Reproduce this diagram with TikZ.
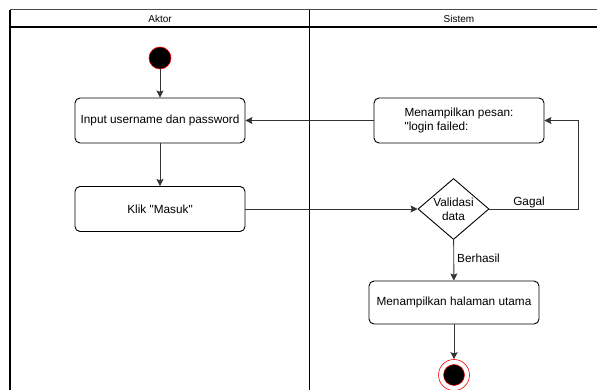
\documentclass[tikz,border=0pt]{standalone}
\usepackage{fontspec}
\setmainfont{Liberation Sans}[Ligatures=TeXOff]
\usepackage{tikz}
\usetikzlibrary{arrows.meta,shapes.geometric}

\tikzset{
	teks/.style={font=\fontsize{11.8}{14}\selectfont},
	aksi/.style={teks,draw,line width=0.9pt,rounded corners=5pt,minimum width=170pt,minimum height=45pt,inner sep=0pt},
	panah/.style={-{Stealth[length=7pt,width=7pt,inset=1.2pt]},line width=0.9pt,black!80},
	garis/.style={line width=1.1pt}
}

\begin{document}
\begin{tikzpicture}[x=1pt,y=-1pt]
	\useasboundingbox (0,0) rectangle (597,390);
	\draw[line width=1pt,black!70] (10,10)--(597,10);
	\draw[garis] (10,27)--(597,27);
	\draw[garis] (10,10)--(10,390);
	\draw[garis] (309.5,10)--(309.5,390);
	\node[font=\fontsize{10}{12}\selectfont] (aktor) at (160,18.5) {Aktor};
	\node[font=\fontsize{10}{12}\selectfont] (sistem) at (459,18.5) {Sistem};
	\node[circle,fill=black,draw=red,line width=0.6pt,minimum size=22pt,inner sep=0pt] (mulai) at (160,58) {};
	\node[aksi] (input) at (160,120.5) {Input username dan password};
	\node[aksi] (klik) at (160,209) {Klik "Masuk"};
	\node[aksi,align=left] (pesan) at (459,120.5) {Menampilkan pesan:\\"login failed:};
	\node[teks,diamond,draw,line width=0.9pt,aspect=1.16,inner sep=0pt,minimum width=71pt,minimum height=61pt,align=center] (validasi) at (453.5,209) {Validasi\\data};
	\node[aksi,minimum height=43pt] (halaman) at (454,302.5) {Menampilkan halaman utama};
	\node[circle,draw=red,line width=0.6pt,minimum size=31pt,inner sep=0pt] (selesai) at (454,375) {};
	\node[circle,fill=black,draw=red,line width=0.5pt,minimum size=21pt,inner sep=0pt] (selesaiisi) at (454,375) {};
	\coordinate (sudut) at (578,120.5);
	\draw[panah] (mulai)--(input);
	\draw[panah] (input)--(klik);
	\draw[panah] (klik)--(validasi);
	\draw[panah] (validasi.east)-|(sudut)--(pesan.east);
	\draw[panah] (pesan)--(input);
	\draw[panah] (validasi)--(halaman);
	\draw[panah] (halaman)--(selesai);
	\node[teks] (gagal) at (529,202) {Gagal};
	\node[teks,anchor=west,inner sep=0pt] (berhasil) at (457,258) {Berhasil};
\end{tikzpicture}
\end{document}
